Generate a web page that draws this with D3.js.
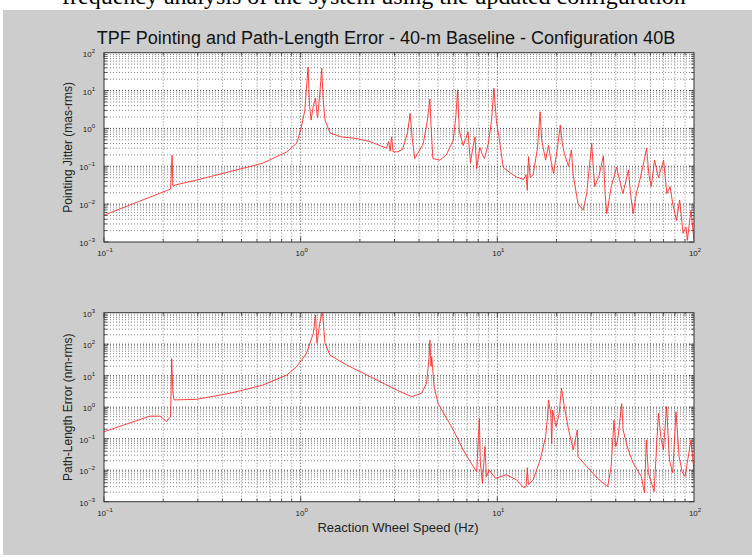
<!DOCTYPE html>
<html><head><meta charset="utf-8">
<script src="https://cdn.jsdelivr.net/npm/d3@7/dist/d3.min.js"></script>
<style>
html,body{margin:0;padding:0;background:#fff;}
svg{display:block;font-family:Arial,"Liberation Sans",Helvetica,sans-serif;}
</style></head><body>
<svg id="chart" width="756" height="559"></svg>
<script>
// ---------- data ----------
const chartTitle = "TPF Pointing and Path-Length Error - 40-m Baseline - Configuration 40B";
const xTitle = "Reaction Wheel Speed (Hz)";
const panelTitles = ["Pointing Jitter (mas-rms)", "Path-Length Error (nm-rms)"];
const xExponents = [-1, 0, 1, 2];
const jitterExponents = [-3, -2, -1, 0, 1, 2];
const pathExponents = [-3, -2, -1, 0, 1, 2, 3];

const jitterFreq = [0.1,0.15,0.211,0.218,0.222,0.224,0.23,0.3,0.44,0.64,0.85,0.955,1.0,1.05,1.09,1.11,1.13,1.16,1.19,1.21,1.22,1.25,1.28,1.3,1.33,1.41,1.6,1.93,2.25,2.73,2.8,2.85,2.9,2.95,3.1,3.3,3.5,3.6,3.7,3.8,4.0,4.2,4.4,4.54,4.6,4.7,5.1,5.5,5.97,6.15,6.28,6.4,6.7,7.1,7.3,7.5,7.7,7.85,8.15,8.4,8.6,9.0,9.35,9.6,9.9,10.2,10.7,11.5,12.5,13.6,14.0,14.2,14.4,14.7,15.2,16.0,16.5,16.8,17.6,18.2,18.7,19.3,20.2,20.9,21.4,21.9,23,23.8,24.3,25.7,27.3,28.5,30.2,30.8,31.3,33,34.6,35.3,36,38,40.4,42,43.5,46.4,47.5,49,51,53,55,57.4,59,60.6,63,66,70,72.8,75.6,78,81.5,84.5,88,91,92.5,96.5,100];
const jitterVal = [0.0051,0.0117,0.0234,0.025,0.195,0.03,0.032,0.044,0.073,0.12,0.24,0.41,0.9,3,42,4,1.66,4,6.3,2.5,1.9,8,39,6,1.66,0.76,0.6,0.54,0.45,0.30,0.45,0.25,0.6,0.24,0.24,0.28,0.8,2.5,0.5,0.16,0.25,0.4,1.5,6,1.2,0.16,0.145,0.2,0.49,2,10.5,0.9,0.35,0.81,0.12,0.3,0.6,0.087,0.32,0.2,0.16,0.4,1.66,11.5,1.5,0.6,0.095,0.07,0.052,0.045,0.06,0.023,0.18,0.05,0.06,0.3,2.75,0.5,0.145,0.36,0.15,0.065,0.3,1.23,0.4,0.22,0.1,0.27,0.06,0.0104,0.0069,0.02,0.4,0.08,0.029,0.06,0.19,0.02,0.0056,0.03,0.095,0.04,0.019,0.079,0.02,0.0056,0.02,0.043,0.1,0.3,0.06,0.029,0.145,0.05,0.145,0.019,0.029,0.01,0.0037,0.0128,0.0017,0.0025,0.0011,0.0069,0.0011];

const pathFreq = [0.1,0.13,0.171,0.193,0.208,0.218,0.221,0.224,0.227,0.296,0.44,0.64,0.85,0.955,1.07,1.16,1.19,1.21,1.25,1.29,1.33,1.41,1.71,2.08,2.53,3.08,3.67,4.12,4.37,4.5,4.54,4.6,4.64,4.77,5.0,5.97,6.7,7.55,7.85,8.1,8.2,8.4,8.65,8.8,9.1,9.8,11.1,12.5,13.6,14.0,14.2,14.4,15.2,16.5,17.6,18.0,18.2,18.7,18.9,19.1,19.9,20.6,21.2,21.9,23,24.3,25.5,25.7,28.5,33,36.4,37.9,39.2,40,41,42.9,43.6,46,49,54,56,57.2,58.6,62.7,65.9,68,69.9,72.6,74,75,78,81,84,87,90,96.5,100];
const pathVal = [0.166,0.29,0.52,0.52,0.35,0.5,35,3,1.7,1.78,2.8,5,10.5,19.5,51,222,850,107,460,1100,107,45,22,12,6.5,3.5,2.15,2.8,5.8,40,135,20,40,4.5,1.3,0.19,0.044,0.013,0.009,0.44,0.017,0.0038,0.056,0.0063,0.01,0.0055,0.0072,0.005,0.0028,0.003,0.012,0.0035,0.0049,0.021,0.115,0.5,1.7,0.64,0.07,0.8,0.24,0.6,4,1.05,0.2,0.044,0.19,0.027,0.013,0.0049,0.003,0.013,0.39,0.056,0.1,1.3,0.19,0.05,0.017,0.0063,0.0019,0.09,0.0083,0.0021,0.64,0.1,0.044,1.05,0.1,0.021,0.0083,0.72,0.027,0.0089,0.0063,0.09,0.0089];

// ---------- layout ----------
const W = 756, H = 559;
const svg = d3.select("#chart");
svg.append("rect").attr("x",0).attr("y",0).attr("width",W).attr("height",H).attr("fill","#fff");
// partial document text above the figure (only its lower part is visible, as in the source)
svg.append("text").attr("x",62).attr("y",4).attr("font-family","'Liberation Serif','Times New Roman',serif")
  .attr("font-size",24).attr("fill","#000").text("frequency analysis of the system using the updated configuration");
svg.append("rect").attr("x",3).attr("y",10).attr("width",749).attr("height",545).attr("fill","#cdcdcd");

svg.append("text").attr("x",386).attr("y",44).attr("text-anchor","middle")
  .attr("font-size",18).attr("fill","#111").text(chartTitle);

const panels = [
  {top:52.7, bottom:242, exps:jitterExponents, freq:jitterFreq, val:jitterVal, title:panelTitles[0], xlabelY:256},
  {top:312.7, bottom:501.7, exps:pathExponents, freq:pathFreq, val:pathVal, title:panelTitles[1], xlabelY:516}
];
const left = 104, right = 694;

panels.forEach((p,i)=>{
  const x = d3.scaleLog().domain([Math.pow(10,xExponents[0]), Math.pow(10,xExponents[xExponents.length-1])]).range([left,right]);
  const yMin = Math.pow(10,d3.min(p.exps)), yMax = Math.pow(10,d3.max(p.exps));
  const y = d3.scaleLog().domain([yMin,yMax]).range([p.bottom,p.top]);
  const g = svg.append("g");
  g.append("rect").attr("x",left).attr("y",p.top).attr("width",right-left).attr("height",p.bottom-p.top).attr("fill","#fff");

  const xVals = [], yVals = [];
  for (let e = xExponents[0]; e < xExponents[xExponents.length-1]; e++) for (let k=1;k<10;k++) xVals.push({v:k*Math.pow(10,e), major:k===1});
  for (let e = d3.min(p.exps); e < d3.max(p.exps); e++) for (let k=1;k<10;k++) yVals.push({v:k*Math.pow(10,e), major:k===1});

  // grid
  g.selectAll("line.gx").data(xVals.filter(d=>d.v>x.domain()[0])).enter().append("line")
    .attr("x1",d=>x(d.v)).attr("x2",d=>x(d.v)).attr("y1",p.top).attr("y2",p.bottom)
    .attr("stroke",d=>d.major?"#444":"#6a6a6a").attr("stroke-width",d=>d.major?1:0.8).attr("stroke-dasharray","1,2");
  g.selectAll("line.gy").data(yVals.filter(d=>d.v>y.domain()[0])).enter().append("line")
    .attr("y1",d=>y(d.v)).attr("y2",d=>y(d.v)).attr("x1",left).attr("x2",right)
    .attr("stroke",d=>d.major?"#444":"#6a6a6a").attr("stroke-width",d=>d.major?1:0.8).attr("stroke-dasharray","1,2");

  // ticks (inside, all sides)
  const tk = g.append("g").attr("stroke","#333").attr("stroke-width",0.8);
  xVals.forEach(d=>{
    const L = d.major?5:3, xx = x(d.v);
    tk.append("line").attr("x1",xx).attr("x2",xx).attr("y1",p.bottom).attr("y2",p.bottom-L);
    tk.append("line").attr("x1",xx).attr("x2",xx).attr("y1",p.top).attr("y2",p.top+L);
  });
  yVals.forEach(d=>{
    const L = d.major?5:3, yy = y(d.v);
    tk.append("line").attr("y1",yy).attr("y2",yy).attr("x1",left).attr("x2",left+L);
    tk.append("line").attr("y1",yy).attr("y2",yy).attr("x1",right).attr("x2",right-L);
  });

  // clip + line
  const cid = "clip"+i;
  svg.append("clipPath").attr("id",cid).append("rect").attr("x",left).attr("y",p.top).attr("width",right-left).attr("height",p.bottom-p.top);
  const line = d3.line().x(d=>x(d[0])).y(d=>y(d[1]));
  g.append("path").datum(d3.zip(p.freq,p.val)).attr("clip-path",`url(#${cid})`)
    .attr("d",line).attr("fill","none").attr("stroke","#ff2a2a").attr("stroke-width",0.9).attr("stroke-linejoin","round");

  // box
  g.append("rect").attr("x",left).attr("y",p.top).attr("width",right-left).attr("height",p.bottom-p.top)
    .attr("fill","none").attr("stroke","#333").attr("stroke-width",1);

  // y tick labels
  p.exps.forEach(e=>{
    const t = g.append("text").attr("x",left-9).attr("y",y(Math.pow(10,e))+4).attr("text-anchor","end")
      .attr("font-size",8).attr("fill","#222");
    t.append("tspan").text("10");
    t.append("tspan").attr("dy",-4).attr("font-size",6).text(String(e).replace("-","\u2212"));
  });
  // x tick labels
  xExponents.forEach(e=>{
    const t = g.append("text").attr("x",x(Math.pow(10,e))+1).attr("y",p.xlabelY).attr("text-anchor","middle")
      .attr("font-size",8).attr("fill","#222");
    t.append("tspan").text("10");
    t.append("tspan").attr("dy",-4).attr("font-size",6).text(String(e).replace("-","\u2212"));
  });
  // y title
  g.append("text").attr("transform",`translate(72,${(p.top+p.bottom)/2}) rotate(-90)`).attr("text-anchor","middle")
    .attr("font-size",12).attr("fill","#222").text(p.title);
});

svg.append("text").attr("x",398).attr("y",532).attr("text-anchor","middle").attr("font-size",13).attr("fill","#222").text(xTitle);
</script>
</body></html>
